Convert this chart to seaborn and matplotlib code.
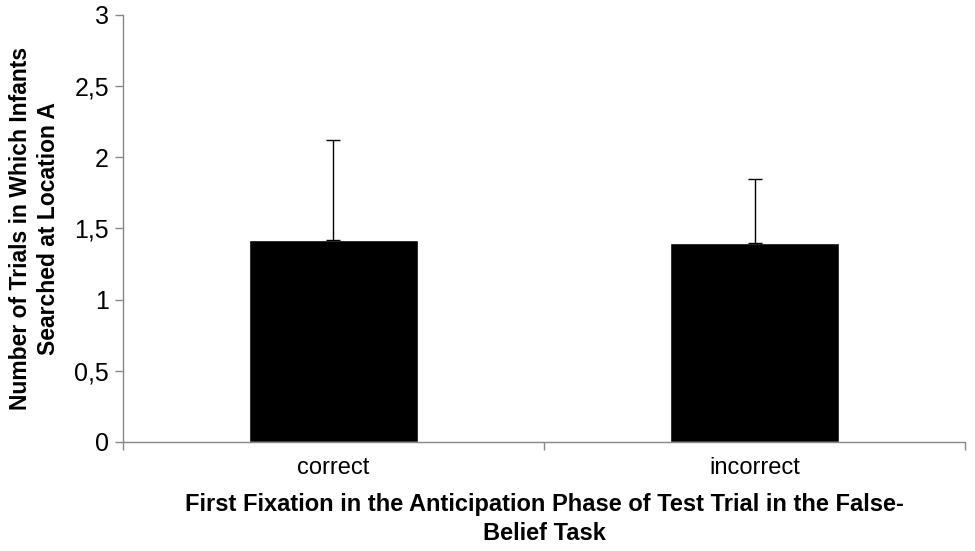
import numpy as np
import pandas as pd
import matplotlib
matplotlib.use("Agg")
import matplotlib.pyplot as plt
import seaborn as sns

categories = ["correct", "incorrect"]
means = [1.42, 1.40]
upper_err = [0.70, 0.45]
y_ticks = [0, 0.5, 1, 1.5, 2, 2.5, 3]
y_tick_labels = ["0", "0,5", "1", "1,5", "2", "2,5", "3"]

sns.set_style("white")
plt.rcParams["font.family"] = ["Liberation Sans", "DejaVu Sans"]
plt.rcParams["text.color"] = "black"
plt.rcParams["axes.labelcolor"] = "black"
plt.rcParams["xtick.color"] = "black"
plt.rcParams["ytick.color"] = "black"

df = pd.DataFrame({"fixation": categories, "trials": means})

fig = plt.figure(figsize=(9.75, 5.51), dpi=100)
ax = fig.add_axes([0.126, 0.198, 0.864, 0.775])

sns.barplot(data=df, x="fixation", y="trials", color="black", width=0.4,
            errorbar=None, ax=ax, saturation=1)
ax.errorbar(np.arange(len(categories)), means, yerr=[[0] * len(means), upper_err],
            fmt="none", ecolor="black", elinewidth=1, capsize=5, capthick=1)

ax.set_xlim(-0.5, len(categories) - 0.5)
ax.set_ylim(0, 3)
ax.set_yticks(y_ticks)
ax.set_yticklabels(y_tick_labels, fontsize=18)
ax.set_xticks(range(len(categories)))
ax.set_xticklabels(categories, fontsize=17)
ax.set_xticks(np.arange(-0.5, len(categories)), minor=True)
ax.tick_params(axis="x", which="major", bottom=True, length=0, pad=11)
ax.tick_params(axis="x", which="minor", bottom=True, length=6, color="#888888",
               direction="out", width=1)
ax.tick_params(axis="y", left=True, length=6, color="#888888", direction="out",
               width=1, pad=4, labelcolor="black")

for side in ["top", "right"]:
    ax.spines[side].set_visible(False)
for side in ["left", "bottom"]:
    ax.spines[side].set_color("#888888")
    ax.spines[side].set_linewidth(1)

ax.set_xlabel("First Fixation in the Anticipation Phase of Test Trial in the False-\nBelief Task",
              fontsize=17, fontweight="bold", labelpad=10, linespacing=1.35)
ax.set_ylabel("Number of Trials in Which Infants\nSearched at Location A",
              fontsize=16.5, fontweight="bold", labelpad=10, linespacing=1.3)

fig.savefig("out.png", dpi=100)
